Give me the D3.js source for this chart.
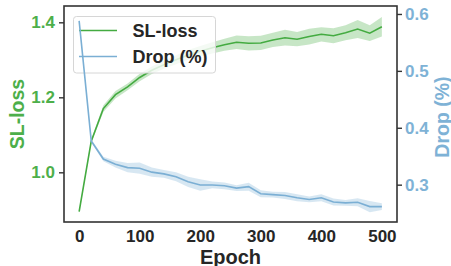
<!DOCTYPE html>
<html>
<head>
<meta charset="utf-8">
<script src="https://cdn.jsdelivr.net/npm/d3@7"></script>
<style>
body { margin: 0; background: #fff; }
svg text { font-family: "Liberation Sans", Arial, sans-serif; font-weight: bold; }
</style>
</head>
<body>
<div id="main"></div>
<script>
// values
var epochs = [0, 20, 40, 60, 80, 100, 120, 140, 160, 180, 200, 220, 240, 260, 280, 300, 320, 340, 360, 380, 400, 420, 440, 460, 480, 500];
var slLoss = [0.895, 1.083, 1.170, 1.207, 1.228, 1.253, 1.272, 1.287, 1.300, 1.313, 1.323, 1.332, 1.340, 1.347, 1.344, 1.345, 1.353, 1.359, 1.355, 1.362, 1.368, 1.364, 1.372, 1.382, 1.371, 1.388];
var slStd = [0.003, 0.005, 0.009, 0.010, 0.009, 0.010, 0.010, 0.011, 0.012, 0.013, 0.014, 0.015, 0.016, 0.018, 0.019, 0.019, 0.019, 0.021, 0.019, 0.021, 0.019, 0.020, 0.020, 0.024, 0.021, 0.026];
var drop = [0.588, 0.377, 0.345, 0.336, 0.330, 0.329, 0.322, 0.319, 0.314, 0.305, 0.2995, 0.2995, 0.298, 0.294, 0.2965, 0.284, 0.2825, 0.281, 0.277, 0.274, 0.277, 0.2695, 0.268, 0.269, 0.2615, 0.2615];
var dropStd = [0.002, 0.003, 0.004, 0.006, 0.008, 0.010, 0.008, 0.007, 0.008, 0.009, 0.010, 0.006, 0.006, 0.005, 0.007, 0.006, 0.005, 0.006, 0.006, 0.005, 0.006, 0.006, 0.005, 0.007, 0.010, 0.006];
var xTicks = [0, 100, 200, 300, 400, 500];
var leftTicks = [1.0, 1.2, 1.4];
var rightTicks = [0.3, 0.4, 0.5, 0.6];
var legendNames = ['SL-loss', 'Drop (%)'];

var svgWidth = 451, svgHeight = 266;
var green = '#44ab41', greenText = '#4daf4a';
var blue = '#7bafd4', blueText = '#7eb2d6';
var frame = {left: 64, right: 397, top: 6, bottom: 222};

var svg = d3.select('#main').append('svg')
			.attr('width', svgWidth)
			.attr('height', svgHeight);

var x = d3.scaleLinear().domain([-25, 525]).range([frame.left, frame.right]);
var yL = d3.scaleLinear().domain([0.8675, 1.4435]).range([frame.bottom, frame.top]);
var yR = d3.scaleLinear().domain([0.2344, 0.614]).range([frame.bottom, frame.top]);

var rows = epochs.map(function(e, i){
	return {e: e, sl: slLoss[i], slS: slStd[i], dr: drop[i], drS: dropStd[i]};
});

svg.append('clipPath').attr('id', 'clip')
	.append('rect')
	.attr('x', frame.left).attr('y', frame.top)
	.attr('width', frame.right - frame.left).attr('height', frame.bottom - frame.top);

var plot = svg.append('g').attr('clip-path', 'url(#clip)');

// SL-loss band and line
plot.append('path')
	.datum(rows)
	.attr('fill', green).attr('fill-opacity', 0.3)
	.attr('d', d3.area()
		.x(function(d){ return x(d.e); })
		.y0(function(d){ return yL(d.sl - d.slS); })
		.y1(function(d){ return yL(d.sl + d.slS); }));

plot.append('path')
	.datum(rows)
	.attr('fill', 'none').attr('stroke', green).attr('stroke-width', 1.6)
	.attr('d', d3.line()
		.x(function(d){ return x(d.e); })
		.y(function(d){ return yL(d.sl); }));

// legend belongs to the left axes, so the Drop curve is drawn over it
var legend = svg.append('g');
legend.append('rect')
	.attr('x', 73.5).attr('y', 16.5).attr('width', 142).attr('height', 56.5)
	.attr('rx', 3).attr('fill', '#fff').attr('fill-opacity', 0.8)
	.attr('stroke', '#d6d6d6').attr('stroke-width', 1);

legend.selectAll('g.item')
	.data(legendNames)
	.enter()
	.append('g').attr('class', 'item')
	.each(function(d, i){
		var yy = 30.5 + i * 26;
		d3.select(this).append('line')
			.attr('x1', 79).attr('x2', 117).attr('y1', yy).attr('y2', yy)
			.attr('stroke', i == 0 ? green : blue).attr('stroke-width', 1.6);
		d3.select(this).append('text')
			.text(d)
			.attr('x', 132.5).attr('y', yy + 6.5)
			.style('font-size', '18px')
			.style('fill', '#262626');
	});

// Drop band and line
var plot2 = svg.append('g').attr('clip-path', 'url(#clip)');
plot2.append('path')
	.datum(rows)
	.attr('fill', blue).attr('fill-opacity', 0.3)
	.attr('d', d3.area()
		.x(function(d){ return x(d.e); })
		.y0(function(d){ return yR(d.dr - d.drS); })
		.y1(function(d){ return yR(d.dr + d.drS); }));

plot2.append('path')
	.datum(rows)
	.attr('fill', 'none').attr('stroke', blue).attr('stroke-width', 1.6)
	.attr('d', d3.line()
		.x(function(d){ return x(d.e); })
		.y(function(d){ return yR(d.dr); }));

// frame
svg.append('rect')
	.attr('x', frame.left).attr('y', frame.top)
	.attr('width', frame.right - frame.left).attr('height', frame.bottom - frame.top)
	.attr('fill', 'none').attr('stroke', '#333').attr('stroke-width', 1.6);

// axes
function styleAxis(g, color){
	g.select('.domain').remove();
	g.selectAll('.tick line').attr('stroke', '#333').attr('stroke-width', 1.4);
	g.selectAll('.tick text').style('font-size', '17px').style('fill', color);
}

svg.append('g')
	.attr('transform', 'translate(' + frame.left + ',0)')
	.call(d3.axisLeft(yL).tickValues(leftTicks).tickFormat(d3.format('.1f')).tickSize(5).tickPadding(4))
	.call(styleAxis, greenText);

svg.append('g')
	.attr('transform', 'translate(' + frame.right + ',0)')
	.call(d3.axisRight(yR).tickValues(rightTicks).tickFormat(d3.format('.1f')).tickSize(5).tickPadding(3))
	.call(styleAxis, blueText);

svg.append('g')
	.attr('transform', 'translate(0,' + frame.bottom + ')')
	.call(d3.axisBottom(x).tickValues(xTicks).tickSize(0).tickPadding(8))
	.call(styleAxis, '#262626');

// axis titles
svg.append('text')
	.text('Epoch')
	.attr('x', (frame.left + frame.right) / 2).attr('y', 264)
	.attr('text-anchor', 'middle')
	.style('font-size', '20px').style('fill', '#262626');

svg.append('text')
	.text('SL-loss')
	.attr('transform', 'translate(24,114) rotate(-90)')
	.attr('text-anchor', 'middle')
	.style('font-size', '19.5px').style('fill', greenText);

svg.append('text')
	.text('Drop (%)')
	.attr('transform', 'translate(448.5,117) rotate(-90)')
	.attr('text-anchor', 'middle')
	.style('font-size', '19.5px').style('fill', blueText);
</script>
</body>
</html>
